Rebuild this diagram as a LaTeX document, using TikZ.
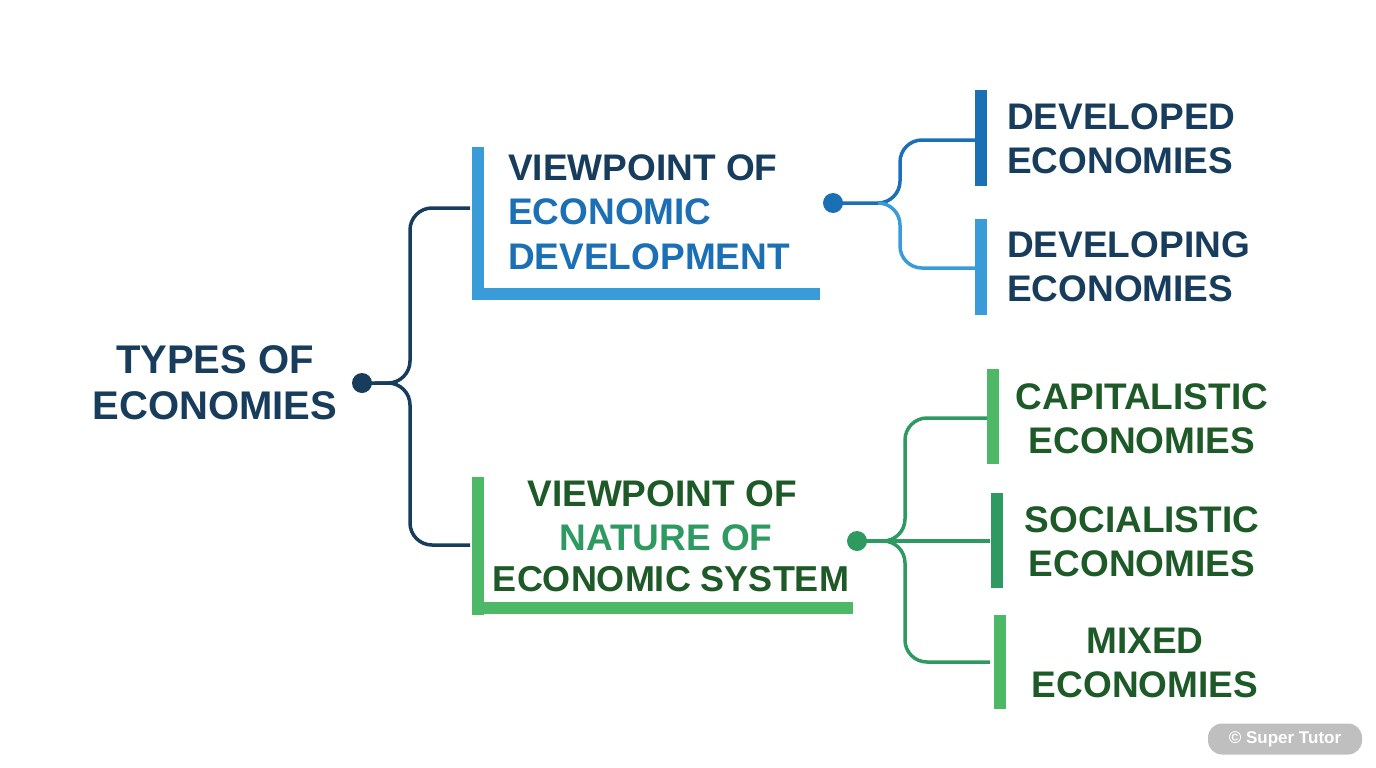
\documentclass[tikz,border=0pt]{standalone}
\usepackage{fontspec}
\setmainfont{Liberation Sans}
\definecolor{navy}{HTML}{173C5C}
\definecolor{blueA}{HTML}{1B6FB5}
\definecolor{blueB}{HTML}{3A9BD9}
\definecolor{dgreen}{HTML}{1D5A27}
\definecolor{lgreen}{HTML}{4DB866}
\definecolor{mgreen}{HTML}{2E9A62}
\begin{document}
\begin{tikzpicture}[x=1pt,y=-1pt,
  txt/.style={font=\fontsize{37}{44}\selectfont\bfseries,inner sep=0pt},
  conn/.style={line width=3.5pt,rounded corners=22pt},
  bar/.style={line width=12pt}]
\useasboundingbox[fill=white] (0,0) rectangle (1376,768);
% root
\node[txt,navy,align=center,font=\fontsize{40}{46}\selectfont\bfseries] (root) at (215,383) {TYPES OF\\ECONOMIES};
\fill[navy] (362,383) circle (10) coordinate (d0);
\coordinate (b1) at (470,208); \coordinate (b2) at (470,545);
\draw[conn,navy] (d0) -- (375,383) -- (410,383) |- (b1);
\draw[conn,navy] (375,383) -- (410,383) |- (b2);
% blue bracket
\draw[bar,blueB] (478,147) -- (478,300);
\draw[bar,blueB] (472,294) -- (820,294);
\node[txt,anchor=west,navy] (v1) at (508,168) {VIEWPOINT OF};
\node[txt,anchor=west,blueA] (v2) at (508,212) {ECONOMIC};
\node[txt,anchor=west,blueA] (v3) at (508,257) {DEVELOPMENT};
\fill[blueA] (833,203) circle (10) coordinate (d1);
\draw[conn,blueA] (d1) -- (900,203) |- (975,140);
\draw[conn,blueB] (880,203) -- (900,203) |- (975,268);
\draw[bar,blueA] (981,90) -- (981,186);
\draw[bar,blueB] (981,219) -- (981,315);
\node[txt,anchor=west,navy,align=left] (e1) at (1007,139) {DEVELOPED\\ECONOMIES};
\node[txt,anchor=west,navy,align=left] (e2) at (1007,267) {DEVELOPING\\ECONOMIES};
% green bracket
\draw[bar,lgreen] (478,477) -- (478,615);
\draw[bar,lgreen] (472,608) -- (853,608);
\node[txt,dgreen] (g1) at (662,494) {VIEWPOINT OF};
\node[txt,mgreen] (g2) at (666,538) {NATURE OF};
\node[txt,dgreen,font=\fontsize{36}{44}\selectfont\bfseries] (g3) at (671,579) {ECONOMIC SYSTEM};
\fill[mgreen] (857,541) circle (10) coordinate (d2);
\draw[conn,mgreen] (d2) -- (905,541) |- (988,418);
\draw[conn,mgreen] (880,541) -- (905,541) |- (990,662);
\draw[line width=3.5pt,mgreen] (d2) -- (990,541);
\draw[bar,lgreen] (993,369) -- (993,464);
\draw[bar,mgreen] (997,493) -- (997,588);
\draw[bar,lgreen] (1000,615) -- (1000,709);
\node[txt,dgreen,align=center] (c1) at (1142,419) {CAPITALISTIC\\ECONOMIES};
\node[txt,dgreen,align=center] (c2) at (1142,542) {SOCIALISTIC\\ECONOMIES};
\node[txt,dgreen,align=center] (c3) at (1145,663) {MIXED\\ECONOMIES};
% watermark
\node[fill=black!25,rounded corners=14pt,minimum width=154pt,minimum height=31pt,text=white,font=\fontsize{17}{20}\selectfont\bfseries] (wm) at (1285,739) {© Super Tutor};
\end{tikzpicture}
\end{document}
